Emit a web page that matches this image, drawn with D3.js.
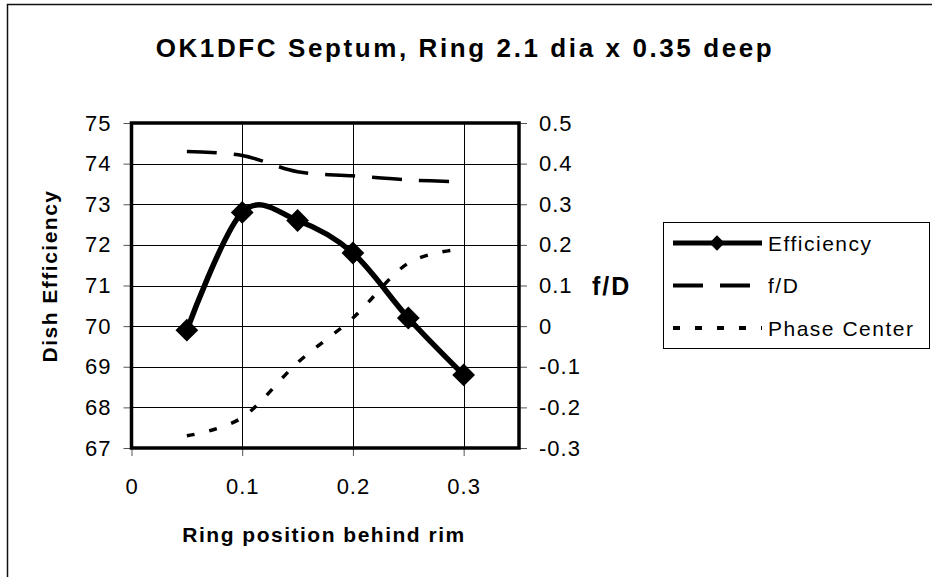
<!DOCTYPE html>
<html>
<head>
<meta charset="utf-8">
<script src="https://cdn.jsdelivr.net/npm/d3@7"></script>
<style>
  body { margin: 0; background: #fff; }
  svg { display: block; font-family: "Liberation Sans", Arial, sans-serif; }
</style>
</head>
<body>
<div id="chart"></div>
<script>
// data
const positions = [0.05, 0.1, 0.15, 0.2, 0.25, 0.3];
const efficiency = [69.9, 72.8, 72.6, 71.8, 70.2, 68.8];
const fD = [0.43, 0.42, 0.38, 0.37, 0.36, 0.355];
const phaseCenter = [-0.27, -0.225, -0.09, 0.02, 0.155, 0.19];
const xTicks = [0, 0.1, 0.2, 0.3];
const leftTicks = [67, 68, 69, 70, 71, 72, 73, 74, 75];
const rightTicks = [-0.3, -0.2, -0.1, 0, 0.1, 0.2, 0.3, 0.4, 0.5];

const width = 932, height = 577;
const plot = { left: 131.5, right: 519, top: 123, bottom: 448 };

const svg = d3.select("#chart").append("svg")
    .attr("width", width)
    .attr("height", height);

// outer chart frame (only left / top edges fall inside the window)
svg.append("rect")
    .attr("x", 7.5).attr("y", 4.5)
    .attr("width", 940).attr("height", 600)
    .attr("fill", "none").attr("stroke", "#111").attr("stroke-width", 1.5);

const x = d3.scaleLinear().domain([0, 0.35]).range([plot.left, plot.right]);
const yL = d3.scaleLinear().domain([67, 75]).range([plot.bottom, plot.top]);
const yR = d3.scaleLinear().domain([-0.3, 0.5]).range([plot.bottom, plot.top]);

const fmt = d => d === 0 ? "0" : d3.format(".1f")(d).replace("−", "-");

// gridlines
const grid = svg.append("g").attr("stroke", "#000").attr("stroke-width", 1);
grid.selectAll("line.h").data(leftTicks).join("line")
    .attr("class", "h")
    .attr("x1", plot.left).attr("x2", plot.right)
    .attr("y1", d => Math.round(yL(d)) + 0.5).attr("y2", d => Math.round(yL(d)) + 0.5);
grid.selectAll("line.v").data(xTicks.filter(d => d > 0)).join("line")
    .attr("class", "v")
    .attr("y1", plot.top).attr("y2", plot.bottom)
    .attr("x1", d => Math.round(x(d)) + 0.5).attr("x2", d => Math.round(x(d)) + 0.5);

// axes
const leftAxis = svg.append("g")
    .attr("transform", `translate(${plot.left},0)`)
    .call(d3.axisLeft(yL).tickValues(leftTicks).tickSize(8).tickPadding(12).tickFormat(d3.format("d")));
const rightAxis = svg.append("g")
    .attr("transform", `translate(${plot.right},0)`)
    .call(d3.axisRight(yR).tickValues(rightTicks).tickSize(8).tickPadding(12).tickFormat(fmt));
const bottomAxis = svg.append("g")
    .attr("transform", `translate(0,${plot.bottom})`)
    .call(d3.axisBottom(x).tickValues(xTicks).tickSize(8).tickPadding(22).tickFormat(fmt));

[leftAxis, rightAxis, bottomAxis].forEach(a => {
    a.select(".domain").remove();
    a.selectAll("line").attr("stroke", "#555");
    a.selectAll("text").attr("font-size", 22).attr("letter-spacing", 1).attr("fill", "#000")
        .attr("font-family", "Liberation Sans, Arial, sans-serif");
});

// plot border
svg.append("rect")
    .attr("x", plot.left).attr("y", plot.top)
    .attr("width", plot.right - plot.left).attr("height", plot.bottom - plot.top)
    .attr("fill", "none").attr("stroke", "#000").attr("stroke-width", 3.5);

// series
const effLine = d3.line().x((d, i) => x(positions[i])).y(d => yL(d)).curve(d3.curveCardinal.tension(0));
const rLine = d3.line().x((d, i) => x(positions[i])).y(d => yR(d)).curve(d3.curveCardinal.tension(0));

svg.append("path").datum(fD)
    .attr("d", rLine).attr("fill", "none").attr("stroke", "#000")
    .attr("stroke-width", 3.5).attr("stroke-dasharray", "30,17");

svg.append("path").datum(phaseCenter)
    .attr("d", rLine).attr("fill", "none").attr("stroke", "#000")
    .attr("stroke-width", 3.5).attr("stroke-dasharray", "8,15");

svg.append("path").datum(efficiency)
    .attr("d", effLine).attr("fill", "none").attr("stroke", "#000")
    .attr("stroke-width", 5.5).attr("stroke-linejoin", "round");

svg.selectAll("path.marker").data(efficiency).join("path")
    .attr("class", "marker")
    .attr("transform", (d, i) => `translate(${x(positions[i])},${yL(d)})`)
    .attr("d", d3.symbol().type(d3.symbolDiamond2).size(330)).attr("fill", "#000");

// titles
svg.append("text")
    .attr("x", 465).attr("y", 57)
    .attr("text-anchor", "middle").attr("font-size", 26).attr("font-weight", "bold")
    .attr("letter-spacing", 2.6)
    .text("OK1DFC Septum, Ring 2.1 dia x 0.35 deep");

svg.append("text")
    .attr("x", 324).attr("y", 542)
    .attr("text-anchor", "middle").attr("font-size", 21).attr("font-weight", "bold")
    .attr("letter-spacing", 1.5)
    .text("Ring position behind rim");

svg.append("text")
    .attr("transform", "translate(57,276) rotate(-90)")
    .attr("text-anchor", "middle").attr("font-size", 21).attr("font-weight", "bold")
    .attr("letter-spacing", 1.5)
    .text("Dish Efficiency");

svg.append("text")
    .attr("x", 592).attr("y", 295)
    .attr("font-size", 25).attr("font-weight", "bold").attr("letter-spacing", 2)
    .text("f/D");

// legend
const legendItems = [
    { name: "Efficiency", width: 5, dash: null, marker: true },
    { name: "f/D", width: 4, dash: "30,17", marker: false },
    { name: "Phase Center", width: 4, dash: "7,15", marker: false }
];
const legend = svg.append("g");
legend.append("rect")
    .attr("x", 663.5).attr("y", 222.5).attr("width", 266).attr("height", 126)
    .attr("fill", "#fff").attr("stroke", "#000").attr("stroke-width", 1);
const rows = legend.selectAll("g.row").data(legendItems).join("g")
    .attr("class", "row")
    .attr("transform", (d, i) => `translate(0,${243 + i * 42.5})`);
rows.append("line")
    .attr("x1", 673).attr("x2", 762).attr("y1", 0).attr("y2", 0)
    .attr("stroke", "#000").attr("stroke-width", d => d.width)
    .attr("stroke-dasharray", d => d.dash);
rows.filter(d => d.marker).append("path")
    .attr("transform", "translate(717,0)")
    .attr("d", d3.symbol().type(d3.symbolDiamond2).size(150)).attr("fill", "#000");
rows.append("text")
    .attr("x", 768).attr("y", 7.5)
    .attr("font-size", 21).attr("letter-spacing", 1.5)
    .text(d => d.name);
</script>
</body>
</html>
